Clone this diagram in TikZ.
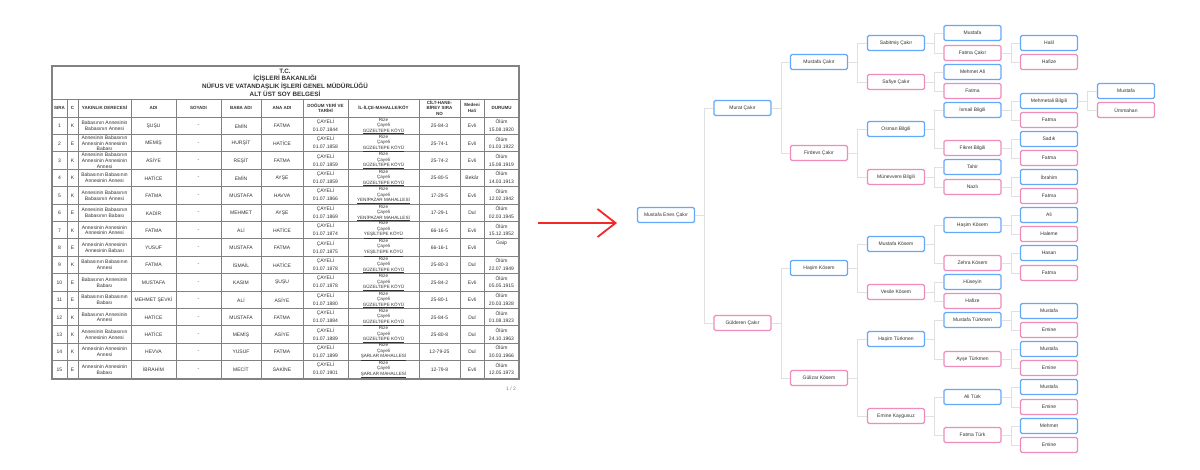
\documentclass[tikz,border=0pt]{standalone}
\usepackage{fontspec}
\setmainfont{Liberation Sans}
\usetikzlibrary{arrows.meta}
\definecolor{maleC}{RGB}{100,168,250}
\definecolor{femC}{RGB}{238,140,188}
\definecolor{linkC}{RGB}{224,224,224}
\definecolor{gridC}{RGB}{130,130,130}
\definecolor{txtC}{RGB}{50,50,50}
\definecolor{arrC}{RGB}{245,40,40}
\newcommand\tabfont{\fontsize{5}{5.8}\selectfont}
\newcommand\headfont{\fontsize{4.5}{5.3}\selectfont\bfseries}
\newcommand\titfont{\fontsize{6.3}{7.5}\selectfont\bfseries}
\newcommand\treefont{\fontsize{5}{6}\selectfont}
\tikzset{
  person/.style={rectangle, rounded corners=1.5pt, line width=1.3pt, fill=white,
    minimum width=57pt, minimum height=15pt, inner sep=0pt, font=\treefont, text=txtC},
  male/.style={person, draw=maleC},
  fem/.style={person, draw=femC},
  link/.style={draw=linkC, line width=1pt},
  cell/.style={inner sep=0pt, font=\tabfont, text=txtC, align=center},
  hcell/.style={inner sep=0pt, font=\headfont, text=txtC, align=center},
  grid/.style={draw=gridC, line width=0.9pt},
  redarrow/.style={draw=arrC, line width=1.8pt, -{Straight Barb[length=18pt,width=28pt,line width=1.8pt]}}
}
\begin{document}
\begin{tikzpicture}[x=1pt,y=-1pt]
\useasboundingbox (0,0) rectangle (1200,469);
\fill[white] (0,0) rectangle (1200,469);

% ---------------- table ----------------
\draw[grid, line width=1.1pt] (52,66) rectangle (519,379);
\draw[grid] (52,99) -- (519,99);
\foreach \k in {0,...,14}{
  \draw[grid] (52,{117+\k*17.4}) -- (519,{117+\k*17.4});
}
\foreach \xx in {67,78,131,176,221,261,303,348,419,460,484}{
  \draw[grid] (\xx,99) -- (\xx,379);
}
\node[hcell, font=\titfont] (t1) at (285,71) {T.C.};
\node[hcell, font=\titfont] (t2) at (285,78.5) {İÇİŞLERİ BAKANLIĞI};
\node[hcell, font=\titfont] (t3) at (285,86) {NÜFUS VE VATANDAŞLIK İŞLERİ GENEL MÜDÜRLÜĞÜ};
\node[hcell, font=\titfont] (t4) at (285,93.5) {ALT ÜST SOY BELGESİ};

\node[hcell] (h1) at (59.5,108) {SIRA};
\node[hcell] (h2) at (72.5,108) {C};
\node[hcell] (h3) at (104.5,108) {YAKINLIK DERECESİ};
\node[hcell] (h4) at (153.5,108) {ADI};
\node[hcell] (h5) at (198.5,108) {SOYADI};
\node[hcell] (h6) at (241,108) {BABA ADI};
\node[hcell] (h7) at (282,108) {ANA ADI};
\node[hcell] (h8) at (325.5,108) {DOĞUM YERİ VE\\TARİHİ};
\node[hcell] (h9) at (383.5,108) {İL-İLÇE-MAHALLE/KÖY};
\node[hcell] (h10) at (439.5,108) {CİLT-HANE-\\BİREY SIRA\\NO};
\node[hcell] (h11) at (472,108) {Medeni\\Hali};
\node[hcell] (h12) at (501.5,108) {DURUMU};

\foreach \n/\c/\yak/\adi/\baba/\ana/\dt/\mah/\cilt/\med/\dA/\dB in {
1/K/{Babasının Annesinin\\Babasının Annesi}/ŞUŞU/EMİN/FATMA/01.07.1844/GÜZELTEPE KÖYÜ/25-84-3/Evli/Ölüm/15.08.1920,
2/E/{Annesinin Babasının\\Annesinin Annesinin\\Babası}/MEMİŞ/HURŞİT/HATİCE/01.07.1858/GÜZELTEPE KÖYÜ/25-74-1/Evli/Ölüm/01.03.1922,
3/K/{Annesinin Babasının\\Annesinin Annesinin\\Annesi}/ASİYE/REŞİT/FATMA/01.07.1859/GÜZELTEPE KÖYÜ/25-74-2/Evli/Ölüm/15.08.1919,
4/K/{Babasının Babasının\\Annesinin Annesi}/HATİCE/EMİN/AYŞE/01.07.1859/GÜZELTEPE KÖYÜ/25-80-5/Bekâr/Ölüm/14.03.1913,
5/K/{Annesinin Babasının\\Babasının Annesi}/FATMA/MUSTAFA/HAVVA/01.07.1866/YENİPAZAR MAHALLESİ/17-29-5/Evli/Ölüm/12.02.1942,
6/E/{Annesinin Babasının\\Babasının Babası}/KADİR/MEHMET/AYŞE/01.07.1869/YENİPAZAR MAHALLESİ/17-29-1/Dul/Ölüm/02.03.1945,
7/K/{Annesinin Annesinin\\Annesinin Annesi}/FATMA/ALİ/HATİCE/01.07.1874/YEŞİLTEPE KÖYÜ/66-16-5/Evli/Ölüm/15.12.1952,
8/E/{Annesinin Annesinin\\Annesinin Babası}/YUSUF/MUSTAFA/FATMA/01.07.1875/YEŞİLTEPE KÖYÜ/66-16-1/Evli/Gaip/{},
9/K/{Babasının Babasının\\Annesi}/FATMA/İSMAİL/HATİCE/01.07.1878/GÜZELTEPE KÖYÜ/25-80-3/Dul/Ölüm/22.07.1949,
10/E/{Babasının Annesinin\\Babası}/MUSTAFA/KASIM/ŞUŞU/01.07.1878/GÜZELTEPE KÖYÜ/25-84-2/Evli/Ölüm/05.05.1915,
11/E/{Babasının Babasının\\Babası}/MEHMET ŞEVKİ/ALİ/ASİYE/01.07.1880/GÜZELTEPE KÖYÜ/25-80-1/Evli/Ölüm/20.03.1928,
12/K/{Babasının Annesinin\\Annesi}/HATİCE/MUSTAFA/FATMA/01.07.1884/GÜZELTEPE KÖYÜ/25-84-5/Dul/Ölüm/01.08.1923,
13/K/{Annesinin Babasının\\Annesinin Annesi}/HATİCE/MEMİŞ/ASİYE/01.07.1889/GÜZELTEPE KÖYÜ/25-80-8/Dul/Ölüm/24.10.1963,
14/K/{Annesinin Annesinin\\Annesi}/HEVVA/YUSUF/FATMA/01.07.1899/ŞARLAR MAHALLESİ/12-79-25/Dul/Ölüm/30.03.1966,
15/E/{Annesinin Annesinin\\Babası}/İBRAHİM/MECİT/SAKİNE/01.07.1901/ŞARLAR MAHALLESİ/12-79-8/Evli/Ölüm/12.05.1973}{
  \pgfmathsetmacro\rt{117+(\n-1)*17.4}
  \pgfmathsetmacro\ry{\rt+8.9}
  \pgfmathsetmacro\ya{\rt+4.6}
  \pgfmathsetmacro\yb{\rt+12.6}
  \node[cell] (sira\n) at (59.5,\ry) {\n};
  \node[cell] (cins\n) at (72.5,\ry) {\c};
  \node[cell] (yak\n) at (104.5,\ry) {\yak};
  \node[cell] (adi\n) at (153.5,\ry) {\adi};
  \node[cell] (soy\n) at (198.5,\ry) {-};
  \node[cell] (baba\n) at (241,\ry) {\baba};
  \node[cell] (ana\n) at (282,\ry) {\ana};
  \node[cell] (dy\n) at (325.5,\ya) {ÇAYELİ};
  \node[cell] (dt\n) at (325.5,\yb) {\dt};
  \node[cell, font=\fontsize{4.6}{5.5}\selectfont] (il\n) at (383.5,\ry) {Rize\\Çayeli\\\underline{\mah}};
  \node[cell] (cilt\n) at (439.5,\ry) {\cilt};
  \node[cell] (med\n) at (472,\ry) {\med};
  \node[cell] (da\n) at (501.5,\ya) {\dA};
  \node[cell] (db\n) at (501.5,\yb) {\dB};
}
\node[cell, text=gray] (page) at (511,389) {1 / 2};

% ---------------- arrow ----------------
\coordinate (arrS) at (538,223);
\coordinate (arrE) at (617,223);
\draw[redarrow] (arrS) -- (arrE);

% ---------------- tree ----------------
\node[male] (a) at (666,215) {Mustafa Enes Çakır};

\node[male] (b1) at (742.5,108) {Murat Çakır};
\node[fem]  (b2) at (742.5,323) {Gülderen Çakır};

\node[male] (c1) at (819,62) {Mustafa Çakır};
\node[fem]  (c2) at (819,153) {Firdevs Çakır};
\node[male] (c3) at (819,268) {Haşim Kösem};
\node[fem]  (c4) at (819,378) {Gülizar Kösem};

\node[male] (d1) at (896,43) {Sabitmiş Çakır};
\node[fem]  (d2) at (896,82) {Safiye Çakır};
\node[male] (d3) at (896,129) {Osman Bilgili};
\node[fem]  (d4) at (896,177) {Münevvere Bilgili};
\node[male] (d5) at (896,244) {Mustafa Kösem};
\node[fem]  (d6) at (896,292) {Vesile Kösem};
\node[male] (d7) at (896,339) {Haşim Türkmen};
\node[fem]  (d8) at (896,416) {Emine Kaygusuz};

\node[male] (e1) at (972.5,33) {Mustafa};
\node[fem]  (e2) at (972.5,53) {Fatma Çakır};
\node[male] (e3) at (972.5,72) {Mehmet Ali};
\node[fem]  (e4) at (972.5,91) {Fatma};
\node[male] (e5) at (972.5,110) {İsmail Bilgili};
\node[fem]  (e6) at (972.5,148) {Fikret Bilgili};
\node[male] (e7) at (972.5,167) {Tahir};
\node[fem]  (e8) at (972.5,187) {Nazlı};
\node[male] (e9) at (972.5,225) {Haşim Kösem};
\node[fem]  (e10) at (972.5,263) {Zehra Kösem};
\node[male] (e11) at (972.5,282) {Hüseyin};
\node[fem]  (e12) at (972.5,301) {Hafize};
\node[male] (e13) at (972.5,320) {Mustafa Türkmen};
\node[fem]  (e14) at (972.5,359) {Ayşe Türkmen};
\node[male] (e15) at (972.5,397) {Ali Türk};
\node[fem]  (e16) at (972.5,435) {Fatma Türk};

\node[male] (f1) at (1049,43) {Halil};
\node[fem]  (f2) at (1049,62) {Hafize};
\node[male] (f3) at (1049,101) {Mehmetali Bilgili};
\node[fem]  (f4) at (1049,120) {Fatma};
\node[male] (f5) at (1049,139) {Sadık};
\node[fem]  (f6) at (1049,158) {Fatma};
\node[male] (f7) at (1049,177) {İbrahim};
\node[fem]  (f8) at (1049,196) {Fatma};
\node[male] (f9) at (1049,215) {Ali};
\node[fem]  (f10) at (1049,234) {Haleme};
\node[male] (f11) at (1049,253) {Hasan};
\node[fem]  (f12) at (1049,273) {Fatma};
\node[male] (f13) at (1049,311) {Mustafa};
\node[fem]  (f14) at (1049,330) {Emine};
\node[male] (f15) at (1049,349) {Mustafa};
\node[fem]  (f16) at (1049,368) {Emine};
\node[male] (f17) at (1049,387) {Mustafa};
\node[fem]  (f18) at (1049,407) {Emine};
\node[male] (f19) at (1049,426) {Mehmet};
\node[fem]  (f20) at (1049,445) {Emine};

\node[male] (g1) at (1126,91) {Mustafa};
\node[fem]  (g2) at (1126,110) {Ümmahan};

\foreach \p/\x/\y in {a/b1/b2, b1/c1/c2, b2/c3/c4, c1/d1/d2, c2/d3/d4, c3/d5/d6, c4/d7/d8,
  d1/e1/e2, d2/e3/e4, d3/e5/e6, d4/e7/e8, d5/e9/e10, d6/e11/e12, d7/e13/e14, d8/e15/e16,
  e2/f1/f2, e5/f3/f4, e6/f5/f6, e8/f7/f8, e9/f9/f10, e10/f11/f12, e13/f13/f14, e14/f15/f16,
  e15/f17/f18, e16/f19/f20, f3/g1/g2}{
  \draw[link] (\p.east) -- ++(9.5,0) |- (\x.west);
  \draw[link] (\p.east) -- ++(9.5,0) |- (\y.west);
}
\end{tikzpicture}
\end{document}
